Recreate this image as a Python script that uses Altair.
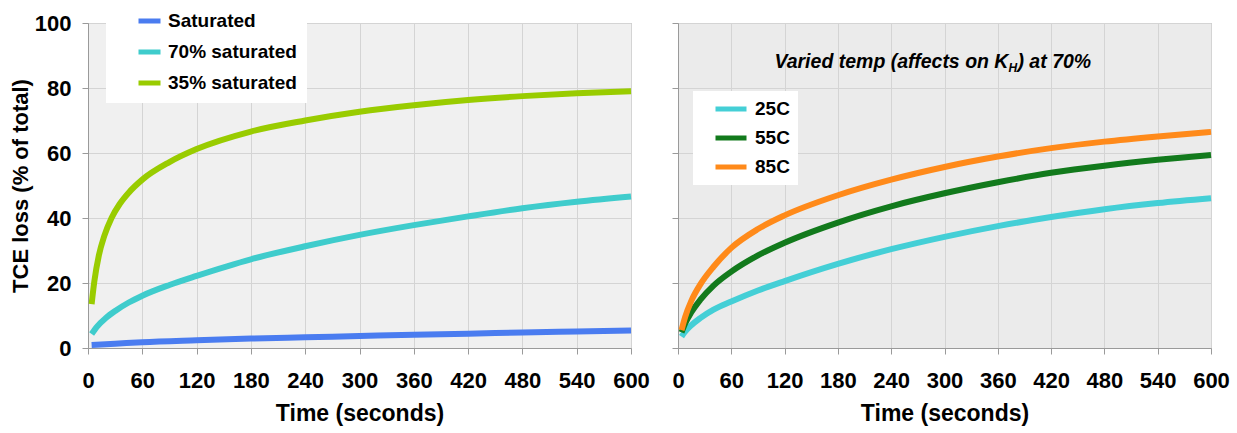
import altair as alt
import pandas as pd

# ---------------- data ----------------
left_names = ["Saturated", "70% saturated", "35% saturated"]
left_colors = ["#4a7cf0", "#3fcccc", "#99cc00"]

t_sat = [4, 30, 60, 120, 180, 240, 300, 360, 420, 480, 540, 600]
v_sat = [0.9, 1.3, 1.8, 2.4, 2.9, 3.3, 3.7, 4.1, 4.4, 4.8, 5.1, 5.4]

t_70 = [4, 10, 20, 30, 45, 60, 90, 120, 180, 240, 300, 360, 420, 480, 540, 600]
v_70 = [4.3, 6.6, 9.3, 11.4, 14.0, 16.1, 19.4, 22.2, 27.3, 31.3, 34.8, 37.8, 40.5, 43.0, 45.0, 46.6]

t_35 = [4, 7, 12, 18, 26, 35, 45, 60, 90, 120, 180, 240, 300, 360, 420, 480, 540, 600]
v_35 = [13.5, 20.5, 28.5, 34.5, 40.0, 44.3, 47.8, 51.8, 57.2, 61.2, 66.6, 70.0, 72.7, 74.7, 76.3, 77.5, 78.4, 79.0]

right_names = ["25C", "55C", "85C"]
right_colors = ["#44cfd6", "#127a1c", "#ff8a1a"]

t_temp = [4, 8, 15, 25, 40, 60, 90, 120, 180, 240, 300, 360, 420, 480, 540, 600]
v_25 = [3.5, 5.0, 7.0, 9.2, 11.8, 14.3, 17.7, 20.6, 25.9, 30.4, 34.2, 37.5, 40.3, 42.7, 44.6, 46.1]
v_55 = [4.8, 7.5, 11.0, 14.8, 19.2, 23.5, 28.5, 32.4, 38.6, 43.6, 47.6, 51.0, 53.9, 56.1, 57.9, 59.4]
v_85 = [5.5, 9.5, 14.5, 19.5, 25.0, 30.8, 36.6, 40.8, 47.0, 51.8, 55.7, 58.9, 61.5, 63.5, 65.1, 66.5]

x_ticks = [0, 60, 120, 180, 240, 300, 360, 420, 480, 540, 600]
y_ticks = [0, 20, 40, 60, 80, 100]

x_title = "Time (seconds)"
y_title = "TCE loss (% of total)"
ann_main = "Varied temp (affects on K"
ann_sub = "H"
ann_tail = ") at 70%"
ann_t = [372]
ann_v = [88]

FONT = "Liberation Sans"

# ---------------- tables ----------------
rows = []
for name, ts, vs in zip(left_names, [t_sat, t_70, t_35], [v_sat, v_70, v_35]):
    for t, v in zip(ts, vs):
        rows.append({"t": t, "v": v, "series": name})
df_left = pd.DataFrame(rows)

rows = []
for name, vs in zip(right_names, [v_25, v_55, v_85]):
    for t, v in zip(t_temp, vs):
        rows.append({"t": t, "v": v, "series": name})
df_right = pd.DataFrame(rows)

df_ann = pd.DataFrame({"t": ann_t, "v": ann_v})

xscale = alt.Scale(domain=[0, 600], nice=False, zero=False)
yscale = alt.Scale(domain=[0, 100], nice=False)

axis_common = dict(
    labelFont=FONT, labelFontWeight="bold", labelColor="black",
    titleFont=FONT, titleFontWeight="bold", titleColor="black",
    gridColor="#d4d4d4", gridWidth=1, domainColor="#9a9a9a",
    tickColor="#9a9a9a", tickSize=6,
)

def xaxis():
    return alt.Axis(values=x_ticks, labelFontSize=22, titleFontSize=23,
                    labelPadding=16, titlePadding=11, labelFlush=False,
                    labelOverlap=False, **axis_common)

# ---------------- left panel ----------------
left = alt.Chart(df_left).mark_line(strokeWidth=6, interpolate="monotone").encode(
    x=alt.X("t:Q", scale=xscale, axis=xaxis(), title=x_title),
    y=alt.Y("v:Q", scale=yscale, title=y_title,
            axis=alt.Axis(values=y_ticks, labelFontSize=22, titleFontSize=22,
                          labelPadding=11, titlePadding=2, **axis_common)),
    color=alt.Color("series:N", title=None,
                    scale=alt.Scale(domain=left_names, range=left_colors),
                    legend=alt.Legend(orient="none", legendX=18, legendY=-22,
                                      fillColor="white", padding=10,
                                      symbolType="stroke", symbolSize=484,
                                      symbolStrokeWidth=5, symbolOffset=20,
                                      labelFont=FONT, labelFontSize=19,
                                      labelFontWeight="bold", labelColor="black",
                                      labelOffset=5, clipHeight=20, rowPadding=11)),
).properties(width=543, height=325,
             view=alt.ViewBackground(fill="#f0f0f0", stroke="#aaaaaa"))

# ---------------- right panel ----------------
right_lines = alt.Chart(df_right).mark_line(strokeWidth=6, interpolate="monotone").encode(
    x=alt.X("t:Q", scale=xscale, axis=xaxis(), title=x_title),
    y=alt.Y("v:Q", scale=yscale, title=None,
            axis=alt.Axis(values=y_ticks, labels=False, **axis_common)),
    color=alt.Color("series:N", title=None,
                    scale=alt.Scale(domain=right_names, range=right_colors),
                    legend=alt.Legend(orient="none", legendX=15, legendY=68,
                                      fillColor="white", padding=8,
                                      symbolType="stroke", symbolSize=961,
                                      symbolStrokeWidth=5, symbolOffset=12,
                                      labelFont=FONT, labelFontSize=19,
                                      labelFontWeight="bold", labelColor="black",
                                      labelOffset=6, clipHeight=20, rowPadding=9)),
)

ann_base = alt.Chart(df_ann).encode(x=alt.X("t:Q", scale=xscale), y=alt.Y("v:Q", scale=yscale))
ann1 = ann_base.mark_text(text=ann_main, align="right", baseline="middle", font=FONT,
                          fontSize=19.5, fontWeight="bold", fontStyle="italic", color="black")
ann2 = ann_base.mark_text(text=ann_sub, align="left", baseline="middle", dy=6, font=FONT,
                          fontSize=12, fontWeight="bold", fontStyle="italic", color="black")
ann3 = ann_base.mark_text(text=ann_tail, align="left", baseline="middle", dx=9, font=FONT,
                          fontSize=19.5, fontWeight="bold", fontStyle="italic", color="black")

right = alt.layer(right_lines, ann1, ann2, ann3).properties(
    width=533, height=325,
    view=alt.ViewBackground(fill="#ebebeb", stroke="#aaaaaa"))

chart = alt.hconcat(left, right, spacing=47, bounds="flush").resolve_scale(
    color="independent", x="independent", y="independent"
).properties(
    padding={"left": 8, "top": 0, "right": 5, "bottom": 5},
    background="white",
)

chart.save("out.html", embed_options={"renderer": "svg", "actions": False})
